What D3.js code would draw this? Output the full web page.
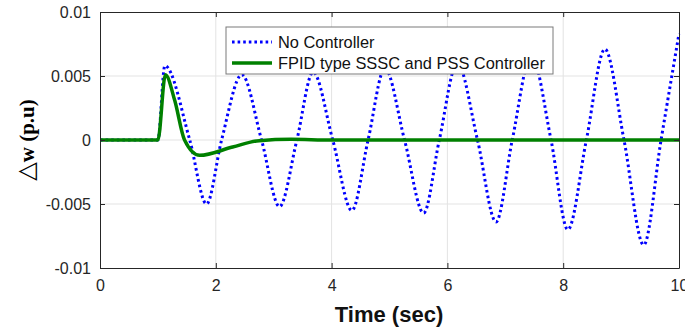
<!DOCTYPE html>
<html>
<head>
<meta charset="utf-8">
<script src="https://cdn.jsdelivr.net/npm/d3@7"></script>
<style>
  body { margin: 0; background: #fff; }
  svg { display: block; }
  .grid line { stroke: #e3e3e3; stroke-width: 1; }
  .tick text { font-family: "Liberation Sans", Arial, sans-serif; font-size: 16px; fill: #262626; }
</style>
</head>
<body>
<svg width="685" height="331"></svg>
<script>
// time (sec) / speed deviation (p.u)
var noCtrlT = [0, 1.0, 1.12, 1.55, 1.84, 2.10, 2.45, 2.79, 3.10, 3.40, 3.68, 4.02, 4.35, 4.63, 4.92, 5.26, 5.59, 5.86, 6.17, 6.52, 6.84, 7.12, 7.45, 7.79, 8.08, 8.40, 8.72, 9.05, 9.39, 9.69, 10.0];
var noCtrlW = [0, 0, 0.0058, 0, -0.0050, 0, 0.0051, 0, -0.0052, 0, 0.0053, 0, -0.0055, 0, 0.0056, 0, -0.0057, 0, 0.0060, 0, -0.0064, 0, 0.0066, 0, -0.0070, 0, 0.0071, 0, -0.0082, 0, 0.0083];

var fpidT = [0, 1.0, 1.13, 1.29, 1.46, 1.72, 2.29, 2.75, 3.3, 4.0, 10.0];
var fpidW = [0, 0, 0.0051, 0.0031, 0, -0.0012, -0.00055, -0.00005, 0.00005, 0, 0];

var xTicks = [0, 2, 4, 6, 8, 10];
var yTicks = [-0.01, -0.005, 0, 0.005, 0.01];
var yTickLabels = ["-0.01", "-0.005", "0", "0.005", "0.01"];

var seriesNames = ["No Controller", "FPID type SSSC and PSS Controller"];

var svg = d3.select("svg"),
    pLeft = 100, pRight = 679, pTop = 12, pBottom = 268;

var x = d3.scaleLinear().domain([0, 10]).range([pLeft, pRight]);
var y = d3.scaleLinear().domain([-0.01, 0.01]).range([pBottom, pTop]);

// grid
var grid = svg.append("g").attr("class", "grid");
grid.selectAll(".gx").data(xTicks.slice(1, -1)).enter().append("line")
    .attr("x1", function(d) { return x(d); }).attr("x2", function(d) { return x(d); })
    .attr("y1", pTop).attr("y2", pBottom);
grid.selectAll(".gy").data(yTicks.slice(1, -1)).enter().append("line")
    .attr("y1", function(d) { return y(d); }).attr("y2", function(d) { return y(d); })
    .attr("x1", pLeft).attr("x2", pRight);

var line = d3.line()
    .x(function(d) { return x(d[0]); })
    .y(function(d) { return y(d[1]); })
    .curve(d3.curveMonotoneX);

var blue = noCtrlT.map(function(t, i) { return [t, noCtrlW[i]]; });
var green = fpidT.map(function(t, i) { return [t, fpidW[i]]; });

svg.append("path").datum(blue)
    .attr("d", line)
    .attr("fill", "none")
    .attr("stroke", "#0000ff")
    .attr("stroke-width", 3)
    .attr("stroke-dasharray", "2.6,3");

svg.append("path").datum(green)
    .attr("d", line)
    .attr("fill", "none")
    .attr("stroke", "#008000")
    .attr("stroke-width", 3.5)
    .attr("stroke-linejoin", "round");

// axes, matlab style ticks pointing inward
var xAxis = d3.axisBottom(x).tickValues(xTicks).tickSizeInner(-5).tickSizeOuter(0).tickPadding(12);
var yAxis = d3.axisLeft(y).tickValues(yTicks)
    .tickFormat(function(d, i) { return yTickLabels[i]; })
    .tickSizeInner(-5).tickSizeOuter(0).tickPadding(9);

svg.append("g").attr("transform", "translate(0," + pBottom + ")").call(xAxis);
svg.append("g").attr("transform", "translate(" + pLeft + ",0)").call(yAxis);
svg.append("g").attr("transform", "translate(0," + pTop + ")")
    .call(d3.axisTop(x).tickValues(xTicks).tickSizeInner(-5).tickSizeOuter(0).tickFormat(""));
svg.append("g").attr("transform", "translate(" + pRight + ",0)")
    .call(d3.axisRight(y).tickValues(yTicks).tickSizeInner(-5).tickSizeOuter(0).tickFormat(""));

svg.selectAll(".domain, .tick line").attr("stroke", "#262626");

// axis labels
svg.append("text")
    .attr("x", 389).attr("y", 322)
    .attr("text-anchor", "middle")
    .attr("font-family", "Liberation Sans, Arial, sans-serif")
    .attr("font-weight", "bold")
    .attr("font-size", 22)
    .attr("fill", "#111")
    .text("Time (sec)");

var yl = svg.append("text")
    .attr("transform", "translate(34,140) rotate(-90)")
    .attr("text-anchor", "middle")
    .attr("fill", "#000");
yl.append("tspan")
    .attr("font-family", "DejaVu Sans, sans-serif")
    .attr("font-size", 24)
    .text("\u25B3");
yl.append("tspan")
    .attr("font-family", "Liberation Serif, Times New Roman, serif")
    .attr("font-weight", "bold")
    .attr("font-size", 21)
    .text("w (p.u)");

// legend
var lg = svg.append("g").attr("transform", "translate(226,27)");
lg.append("rect")
    .attr("width", 327).attr("height", 47)
    .attr("fill", "#fff").attr("stroke", "#7a7a7a").attr("stroke-width", 1);

var rows = lg.selectAll(".row").data(seriesNames).enter().append("g")
    .attr("transform", function(d, i) { return "translate(0," + (15 + i * 21) + ")"; });

rows.append("line")
    .attr("x1", 6).attr("x2", 46)
    .attr("stroke", function(d, i) { return i == 0 ? "#0000ff" : "#008000"; })
    .attr("stroke-width", function(d, i) { return i == 0 ? 3 : 3.5; })
    .attr("stroke-dasharray", function(d, i) { return i == 0 ? "2.6,3" : null; });

rows.append("text")
    .attr("x", 52).attr("dy", "0.35em")
    .attr("font-family", "Liberation Sans, Arial, sans-serif")
    .attr("font-size", 16.4)
    .attr("fill", "#111")
    .text(function(d) { return d; });
</script>
</body>
</html>
